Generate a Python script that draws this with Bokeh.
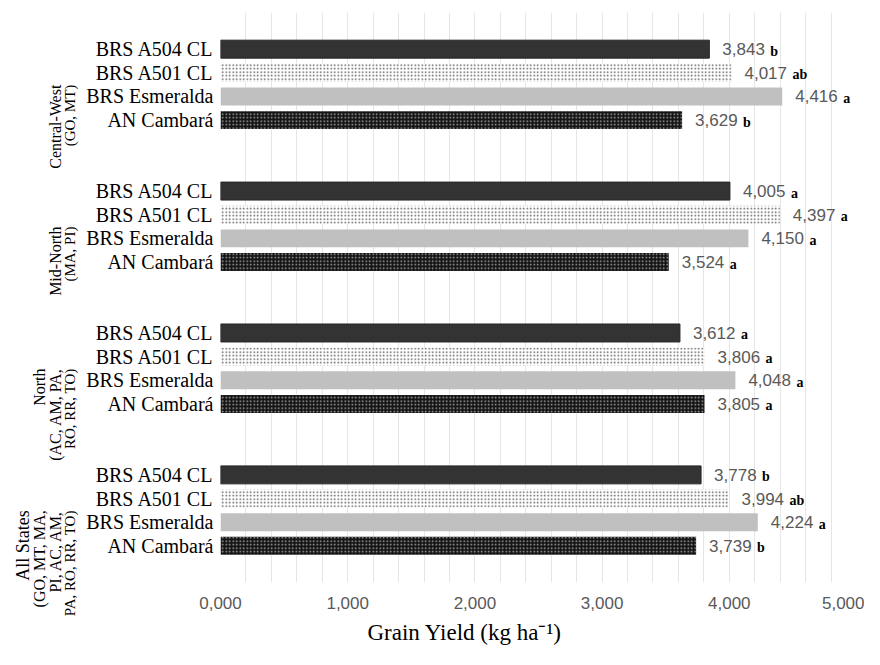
import math
from bokeh.plotting import figure
from bokeh.models import Range1d, FixedTicker, ColumnDataSource, Title, LinearAxis
from bokeh.core.properties import value
from bokeh.embed import file_html
from bokeh.resources import INLINE

# ---- data ----
region_names = ["Central-West", "Mid-North", "North", "All States"]
region_states = [
    ["(GO, MT)"],
    ["(MA, PI)"],
    ["(AC, AM, PA,", "RO, RR, TO)"],
    ["(GO, MT, MA,", "PI, AC, AM,", "PA, RO, RR, TO)"],
]
varieties = ["BRS A504 CL", "BRS A501 CL", "BRS Esmeralda", "AN Cambará"]

yield_central_west = [3843, 4017, 4416, 3629]
yield_mid_north = [4005, 4397, 4150, 3524]
yield_north = [3612, 3806, 4048, 3805]
yield_all_states = [3778, 3994, 4224, 3739]

letters_central_west = ["b", "ab", "a", "b"]
letters_mid_north = ["a", "a", "a", "a"]
letters_north = ["a", "a", "a", "a"]
letters_all_states = ["b", "ab", "a", "b"]

x_ticks = [0, 1000, 2000, 3000, 4000, 5000]
x_tick_labels = ["0,000", "1,000", "2,000", "3,000", "4,000", "5,000"]
x_grid_step = 200

yields = [yield_central_west, yield_mid_north, yield_north, yield_all_states]
letters = [letters_central_west, letters_mid_north, letters_north, letters_all_states]

GROUP_STRIDE = 6  # 4 bars + 2 empty slots

p = figure(frame_width=636, frame_height=570, output_backend="svg", toolbar_location=None,
           x_range=Range1d(0, 5000), y_range=Range1d(22.55, -1.55),
           min_border_left=220, min_border_right=8, min_border_top=12, min_border_bottom=67)
p.outline_line_color = None
p.background_fill_color = "white"
p.border_fill_color = "white"

styles = [
    dict(fill_color="#333333", line_color="#262626", line_width=1),
    dict(fill_color="#ffffff", hatch_pattern="dot", hatch_color="#5a5a5a", hatch_scale=3.5,
         hatch_weight=1.6, line_color=None),
    dict(fill_color="#c0c0c0", line_color=None),
    dict(fill_color="#141414", hatch_pattern="dot", hatch_color="#a8a8a8", hatch_scale=3.5,
         hatch_weight=1.6, line_color=None),
]

all_pos, all_names = [], []
for v, name in enumerate(varieties):
    ys, xs, nums, lets = [], [], [], []
    for g in range(len(region_names)):
        pos = g * GROUP_STRIDE + v
        ys.append(pos)
        xs.append(yields[g][v])
        nums.append(f"{yields[g][v]:,}")
        lets.append(letters[g][v])
        all_pos.append(pos)
        all_names.append(name)
    src = ColumnDataSource(dict(y=ys, x=xs, num=nums, let=lets))
    p.hbar(y="y", right="x", left=0, height=0.76, source=src, **styles[v])
    p.text(x="x", y="y", text="num", source=src, x_offset=13, text_baseline="middle",
           text_font=value("Liberation Sans"), text_font_size="17px", text_color="#595959")
    p.text(x="x", y="y", text="let", source=src, x_offset=61, y_offset=2, text_baseline="middle",
           text_font=value("Liberation Serif"), text_font_size="14px", text_font_style="bold",
           text_color="#000000")

# x axis
xa = p.xaxis[0]
xa.ticker = FixedTicker(ticks=x_ticks)
xa.major_label_overrides = {t: l for t, l in zip(x_ticks, x_tick_labels)}
xa.major_label_text_font = "Liberation Sans"
xa.major_label_text_font_size = "17px"
xa.major_label_text_color = "#595959"
xa.major_label_standoff = 8
xa.axis_line_color = None
xa.major_tick_line_color = None
xa.minor_tick_line_color = None

p.xgrid.ticker = FixedTicker(ticks=list(range(0, 5001, x_grid_step)))
p.xgrid.grid_line_color = "#e6e6e6"
p.xgrid.grid_line_width = 1
p.ygrid.grid_line_color = None

# variety axis
ya = p.yaxis[0]
ya.ticker = FixedTicker(ticks=all_pos)
ya.major_label_overrides = {pp: n for pp, n in zip(all_pos, all_names)}
ya.major_label_text_font = "Liberation Serif"
ya.major_label_text_font_size = "20px"
ya.major_label_text_color = "#000000"
ya.major_label_standoff = 7
ya.major_tick_out = 0
ya.major_tick_in = 0
ya.axis_line_color = None
ya.major_tick_line_color = None
ya.minor_tick_line_color = None

# region labels: each group's lines, right-most line nearest the bars,
# one rotated axis per line column
columns = []
for g, (rname, rstates) in enumerate(zip(region_names, region_states)):
    lines = [rname] + rstates
    for k, line in enumerate(reversed(lines)):
        while len(columns) <= k:
            columns.append({})
        columns[k][g * GROUP_STRIDE + 1.5] = line

col_font_sizes = ["15px", "16px", "16px", "18px"]
col_standoffs = [13, -4, -4, -4]
for k, col in enumerate(columns):
    ax = LinearAxis(ticker=FixedTicker(ticks=list(col.keys())),
                    major_label_overrides=col)
    ax.major_label_orientation = math.pi / 2
    ax.major_label_text_font = "Liberation Serif"
    ax.major_label_text_font_size = col_font_sizes[k]
    ax.major_label_text_color = "#000000"
    ax.major_label_standoff = col_standoffs[k]
    ax.axis_line_color = None
    ax.major_tick_line_color = None
    ax.minor_tick_line_color = None
    ax.major_tick_out = 0
    ax.major_tick_in = 0
    p.add_layout(ax, "left")

# axis title
p.add_layout(Title(text="Grain Yield (kg ha\u207b\u00b9)", align="left", offset=147,
                   text_font="Liberation Serif", text_font_size="23px",
                   text_font_style="normal", text_color="#000000", standoff=12), "below")

open("out.html", "w").write(file_html(p, INLINE))
